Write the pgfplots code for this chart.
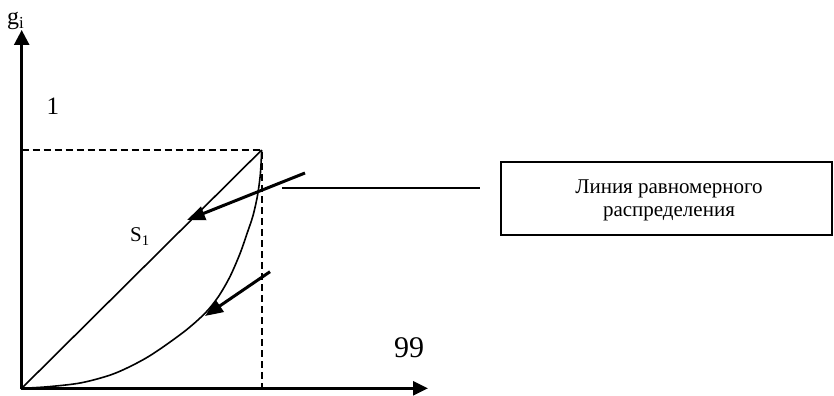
\documentclass[border=0pt]{standalone}
\usepackage{fontspec}
\setmainfont{Liberation Serif}
\usepackage{pgfplots}
\pgfplotsset{compat=1.18}
\usetikzlibrary{arrows.meta}

\pgfplotstableread{
x y
0.0000 0.0000
0.1108 0.0067
0.2500 0.0235
0.3888 0.0630
0.5275 0.1326
0.6733 0.2350
0.7637 0.3148
0.8196 0.3848
0.8679 0.4688
0.9096 0.5652
0.9388 0.6492
0.9638 0.7247
0.9825 0.8086
0.9929 0.8841
0.9971 0.9387
1.0000 1.0000
}\lorenz

\begin{document}
\begin{tikzpicture}
\begin{axis}[
  scale only axis, width=834pt, height=393pt,
  xmin=-0.0904, xmax=3.3846, ymin=-0.0197, ymax=1.6295,
  axis lines=none, clip=false,
]
% keep the full frame as bounding box
\path (axis cs:-0.0904,-0.0197) rectangle (axis cs:3.3846,1.6295);
% axes with arrows
\addplot[black, line width=2.6pt, -{Triangle[length=15pt,width=15pt]}]
  coordinates {(0,-0.004)(0,1.5036)};
\addplot[black, line width=2.6pt, -{Triangle[length=15pt,width=14pt]}]
  coordinates {(-0.004,0)(1.693,0)};
% dashed guides to the corner (1,1)
\addplot[black, line width=1.7pt, dash pattern=on 7pt off 4pt]
  coordinates {(0,1)(1,1)(1,0)};
% line of equal distribution
\addplot[black, line width=1.6pt] coordinates {(0,0)(1,1)};
% Lorenz curve
\addplot[black, line width=1.6pt, smooth] table {\lorenz};
% pointer arrows
\addplot[black, line width=3pt, -{Triangle[length=18pt,width=14pt]}]
  coordinates {(1.1804,0.9035)(0.6888,0.7063)};
\addplot[black, line width=3pt, -{Triangle[length=18pt,width=14pt]}]
  coordinates {(1.0346,0.4893)(0.7638,0.3034)};
% leader line to the label box
\addplot[black, line width=2pt] coordinates {(1.0846,0.8410)(1.9096,0.8410)};
% label box
\draw[line width=1.6pt] (axis cs:1.9971,0.6433) rectangle (axis cs:3.3763,0.9497);
\node[anchor=base] at (axis cs:2.697,0.8183) {\fontsize{21}{25}\selectfont Линия равномерного};
\node[anchor=base] at (axis cs:2.697,0.7201) {\fontsize{21}{25}\selectfont распределения};
% texts
\node[anchor=base] at (axis cs:0.1304,1.147) {\fontsize{25}{30}\selectfont 1};
\node[anchor=base] at (axis cs:1.6138,0.1313) {\fontsize{30}{34}\selectfont 99};
\node[anchor=base west, inner sep=0pt] at (axis cs:-0.0613,1.5275) {\fontsize{24}{28}\selectfont g\textsubscript{i}};
\node[anchor=base west, inner sep=0pt] at (axis cs:0.4513,0.614) {\fontsize{21}{25}\selectfont S\textsubscript{1}};
\end{axis}
\end{tikzpicture}
\end{document}
